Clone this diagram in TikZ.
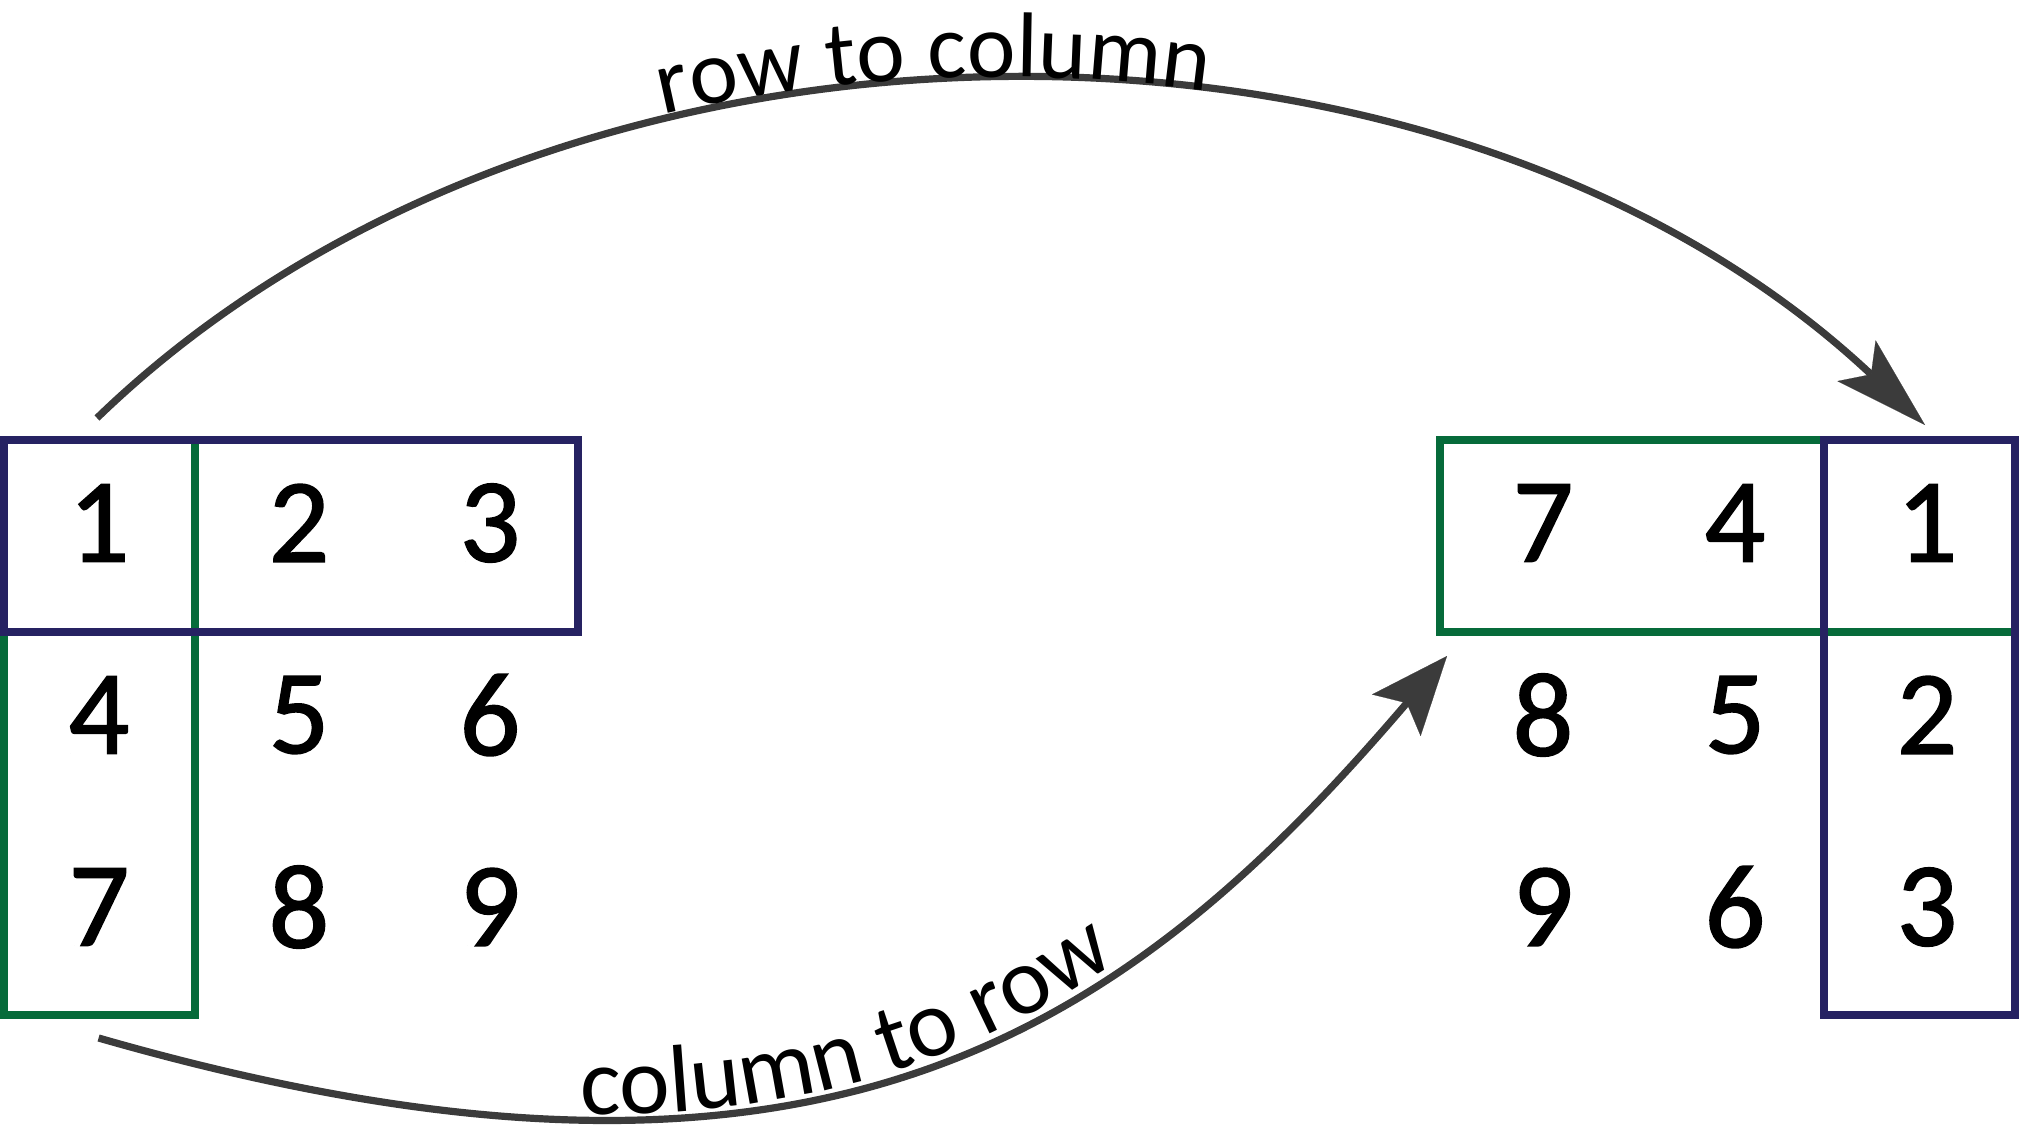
\documentclass[tikz,border=0pt]{standalone}
\usepackage{fontspec}
\setmainfont{Carlito}
\newfontfamily\digitfont[FakeBold=1.3]{Carlito}
\usetikzlibrary{arrows.meta,decorations.text}
\definecolor{navyline}{HTML}{262262}
\definecolor{greenline}{HTML}{066B3A}
\definecolor{arrowgray}{HTML}{3B3B3B}
\begin{document}
\begin{tikzpicture}[x=0.5pt,y=-0.5pt,
  bluebox/.style={draw=navyline, line width=4pt},
  grnbox/.style={draw=greenline, line width=4pt},
  num/.style={font=\digitfont\fontsize{60}{72}\selectfont, inner sep=0pt, anchor=center},
  conn/.style={draw=arrowgray, line width=3.6pt},
  lbl/.style={decorate, decoration={text along path}}]
\useasboundingbox (0,0) rectangle (2019,1125);

% left matrix
\draw[grnbox] (4,440) rectangle (195,1015);
\draw[bluebox] (4,440) rectangle (578,632);
\node[num] (l11) at (99,523) {1};
\node[num] (l12) at (299,523) {2};
\node[num] (l13) at (490,523) {3};
\node[num] (l21) at (99,715) {4};
\node[num] (l22) at (299,715) {5};
\node[num] (l23) at (490,715) {6};
\node[num] (l31) at (99,907) {7};
\node[num] (l32) at (299,907) {8};
\node[num] (l33) at (490,907) {9};

% right matrix
\draw[grnbox] (1440,440) rectangle (2015,632);
\draw[bluebox] (1824,440) rectangle (2015,1015);
\node[num] (r11) at (1543,523) {7};
\node[num] (r12) at (1735,523) {4};
\node[num] (r13) at (1927,523) {1};
\node[num] (r21) at (1543,715) {8};
\node[num] (r22) at (1735,715) {5};
\node[num] (r23) at (1927,715) {2};
\node[num] (r31) at (1543,907) {9};
\node[num] (r32) at (1735,907) {6};
\node[num] (r33) at (1927,907) {3};

% connectors
\coordinate (rcs) at (97,418);
\coordinate (rce) at (1925,425);
\coordinate (crs) at (98.6,1038);
\coordinate (cre) at (1447,656);

\draw[conn, -{Stealth[length=47pt,width=28pt,inset=10pt,line width=0.1pt]}]
  (rcs) .. controls (560,-30) and (1440,-30) .. (rce);
\path[lbl, decoration={raise=3pt, text={|\fontsize{46}{55}\selectfont|row to column}, text align={left indent=324pt}}]
  (rcs) .. controls (560,-30) and (1440,-30) .. (rce);

\draw[conn, -{Stealth[length=39pt,width=32pt,inset=8pt,line width=0.1pt]}]
  (crs) .. controls (819,1245) and (1122,1036) .. (cre);
\path[lbl, decoration={raise=2.5pt, text={|\fontsize{48}{57}\selectfont|column to row}, text align={left indent=245pt}}]
  (crs) .. controls (819,1245) and (1122,1036) .. (cre);
\end{tikzpicture}
\end{document}
